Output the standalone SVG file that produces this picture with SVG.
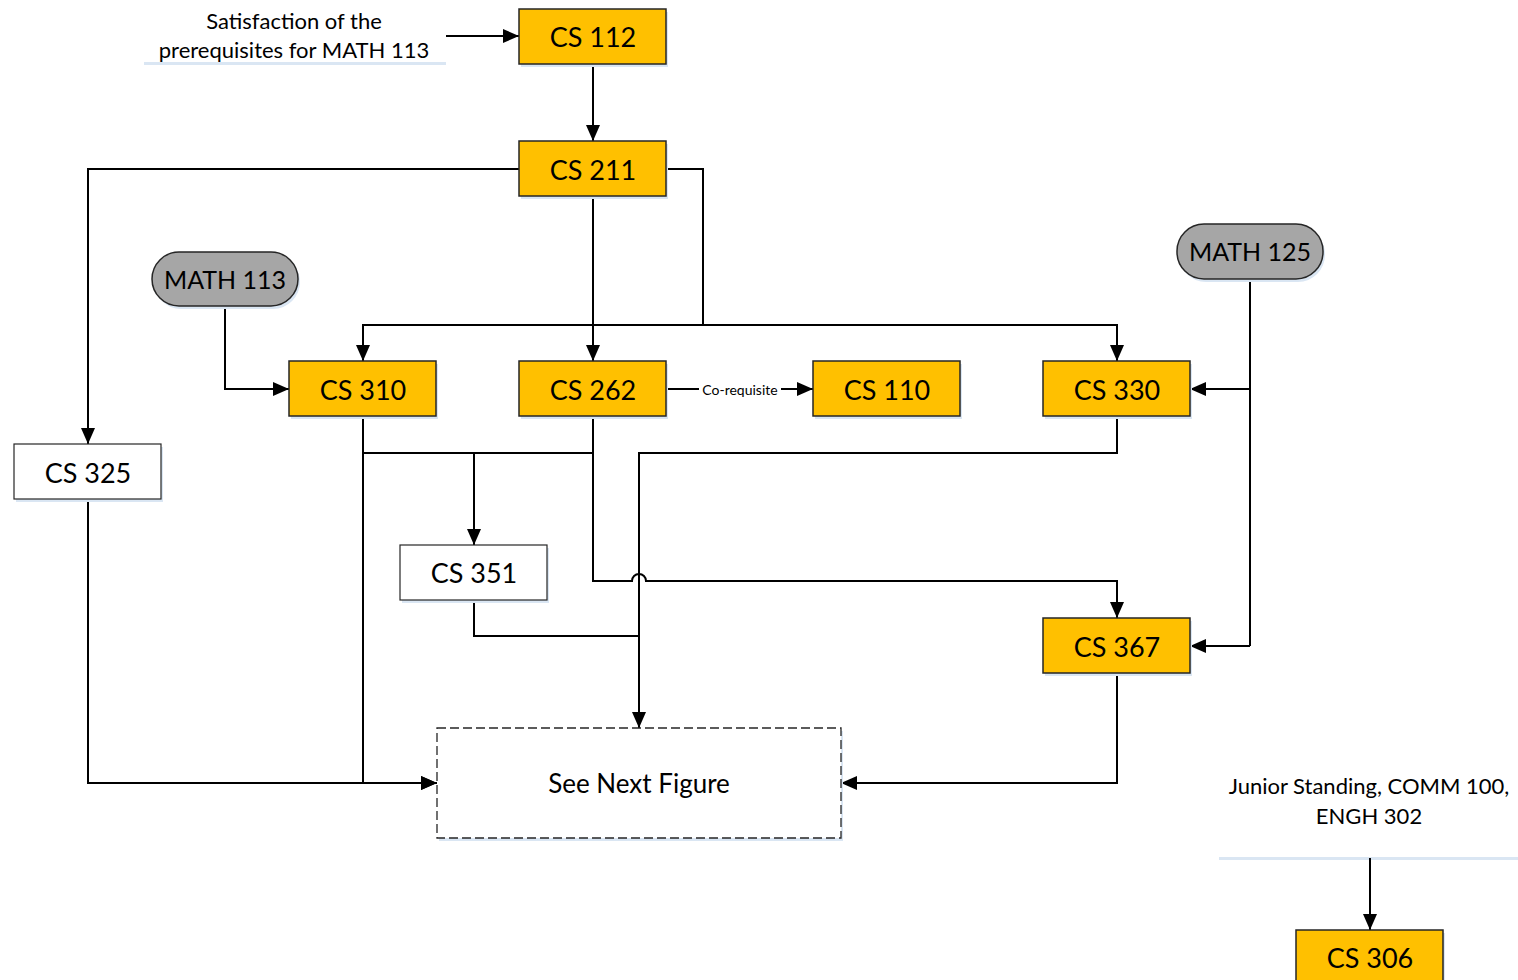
<svg xmlns="http://www.w3.org/2000/svg" width="1518" height="980" viewBox="0 0 1518 980">
<style>
.box{fill:#FFC000;stroke:#262626;stroke-width:1.5}
.wbox{fill:#ffffff;stroke:#262626;stroke-width:1.2}
.pill{fill:#A6A6A6;stroke:#262626;stroke-width:1.5}
.sh{fill:#DAE6F3}
.t{font-family:Lato,"Open Sans",sans-serif;font-size:27px;fill:#000;text-anchor:middle;dominant-baseline:central}
.pt{font-size:25px}
.lbl{font-family:Lato,"Open Sans",sans-serif;font-size:22px;fill:#000;text-anchor:middle}
.small{font-family:Lato,"Open Sans",sans-serif;font-size:14px;fill:#000;text-anchor:middle;dominant-baseline:central}
.c{fill:none;stroke:#000;stroke-width:2}
.a{fill:none;stroke:#000;stroke-width:2;marker-end:url(#ah)}
</style>
<defs>
<marker id="ah" markerUnits="userSpaceOnUse" markerWidth="16" markerHeight="14" viewBox="0 0 16 14" refX="16" refY="7" orient="auto">
<path d="M0,0 L16,7 L0,14 Z" fill="#000"/>
</marker>
</defs>
<rect width="1518" height="980" fill="#fff"/>

<g id="label-prereq">
<rect x="144" y="62" width="302" height="3" class="sh"/>
<text class="lbl" x="294" y="29">Satisfaction of the</text>
<text class="lbl" x="294" y="58">prerequisites for MATH 113</text>
</g>
<g id="label-junior">
<rect x="1219" y="857" width="299" height="3" class="sh"/>
<text class="lbl" x="1369" y="794">Junior Standing, COMM 100,</text>
<text class="lbl" x="1369" y="824">ENGH 302</text>
</g>

<g id="connectors">
<path class="a" d="M446,36 H519"/>
<path class="a" d="M593,64 V141"/>
<path class="a" d="M519,169 H88 V444"/>
<path class="c" d="M666,169 H703 V325"/>
<path class="a" d="M703,325 H363 V361"/>
<path class="a" d="M703,325 H1117 V361"/>
<path class="a" d="M593,196 V361"/>
<path class="a" d="M225,306 V389 H289"/>
<path class="a" d="M666,389 H813"/>
<path class="c" d="M1250,279 V646"/>
<path class="a" d="M1250,389 H1190"/>
<path class="a" d="M1250,646 H1190"/>
<path class="c" d="M363,416 V453 H593 V416"/>
<path class="a" d="M474,453 V545"/>
<path class="a" d="M363,453 V783 H437"/>
<path class="a" d="M593,416 V581 H632 A7,7 0 0 1 646,581 H1117 V618"/>
<path class="a" d="M1117,416 V453 H639 V728"/>
<path class="c" d="M474,600 V636 H639"/>
<path class="a" d="M88,499 V783 H437"/>
<path class="a" d="M1117,673 V783 H841"/>
<path class="a" d="M1370,858 V930"/>
<rect x="699" y="380" width="82" height="18" fill="#fff"/>
<text class="small" x="740" y="389">Co-requisite</text>
</g>

<g id="cs112"><rect x="521" y="12" width="147" height="55" class="sh"/><rect x="519" y="9" width="147" height="55" class="box"/><text class="t" x="593" y="36">CS 112</text></g>
<g id="cs211"><rect x="521" y="144" width="147" height="55" class="sh"/><rect x="519" y="141" width="147" height="55" class="box"/><text class="t" x="593" y="169">CS 211</text></g>
<g id="cs310"><rect x="291" y="364" width="147" height="55" class="sh"/><rect x="289" y="361" width="147" height="55" class="box"/><text class="t" x="363" y="389">CS 310</text></g>
<g id="cs262"><rect x="521" y="364" width="147" height="55" class="sh"/><rect x="519" y="361" width="147" height="55" class="box"/><text class="t" x="593" y="389">CS 262</text></g>
<g id="cs110"><rect x="815" y="364" width="147" height="55" class="sh"/><rect x="813" y="361" width="147" height="55" class="box"/><text class="t" x="887" y="389">CS 110</text></g>
<g id="cs330"><rect x="1045" y="364" width="147" height="55" class="sh"/><rect x="1043" y="361" width="147" height="55" class="box"/><text class="t" x="1117" y="389">CS 330</text></g>
<g id="cs325"><rect x="16" y="447" width="147" height="55" class="sh"/><rect x="14" y="444" width="147" height="55" class="wbox"/><text class="t" x="88" y="472">CS 325</text></g>
<g id="cs351"><rect x="402" y="548" width="147" height="55" class="sh"/><rect x="400" y="545" width="147" height="55" class="wbox"/><text class="t" x="474" y="572">CS 351</text></g>
<g id="cs367"><rect x="1045" y="621" width="147" height="55" class="sh"/><rect x="1043" y="618" width="147" height="55" class="box"/><text class="t" x="1117" y="646">CS 367</text></g>
<g id="cs306"><rect x="1298" y="933" width="147" height="55" class="sh"/><rect x="1296" y="930" width="147" height="55" class="box"/><text class="t" x="1370" y="957">CS 306</text></g>
<g id="math113"><rect x="154" y="255" width="146" height="54" rx="27" class="sh"/><rect x="152" y="252" width="146" height="54" rx="27" class="pill"/><text class="t pt" x="225" y="279">MATH 113</text></g>
<g id="math125"><rect x="1179" y="227" width="146" height="55" rx="27" class="sh"/><rect x="1177" y="224" width="146" height="55" rx="27" class="pill"/><text class="t pt" x="1250" y="251">MATH 125</text></g>
<g id="next"><rect x="439" y="731" width="404" height="110" class="sh"/><rect x="437" y="728" width="404" height="110" fill="#fff" stroke="#262626" stroke-width="1.3" stroke-dasharray="9,4"/><text class="t" x="639" y="783" style="font-size:26px">See Next Figure</text></g>
</svg>
